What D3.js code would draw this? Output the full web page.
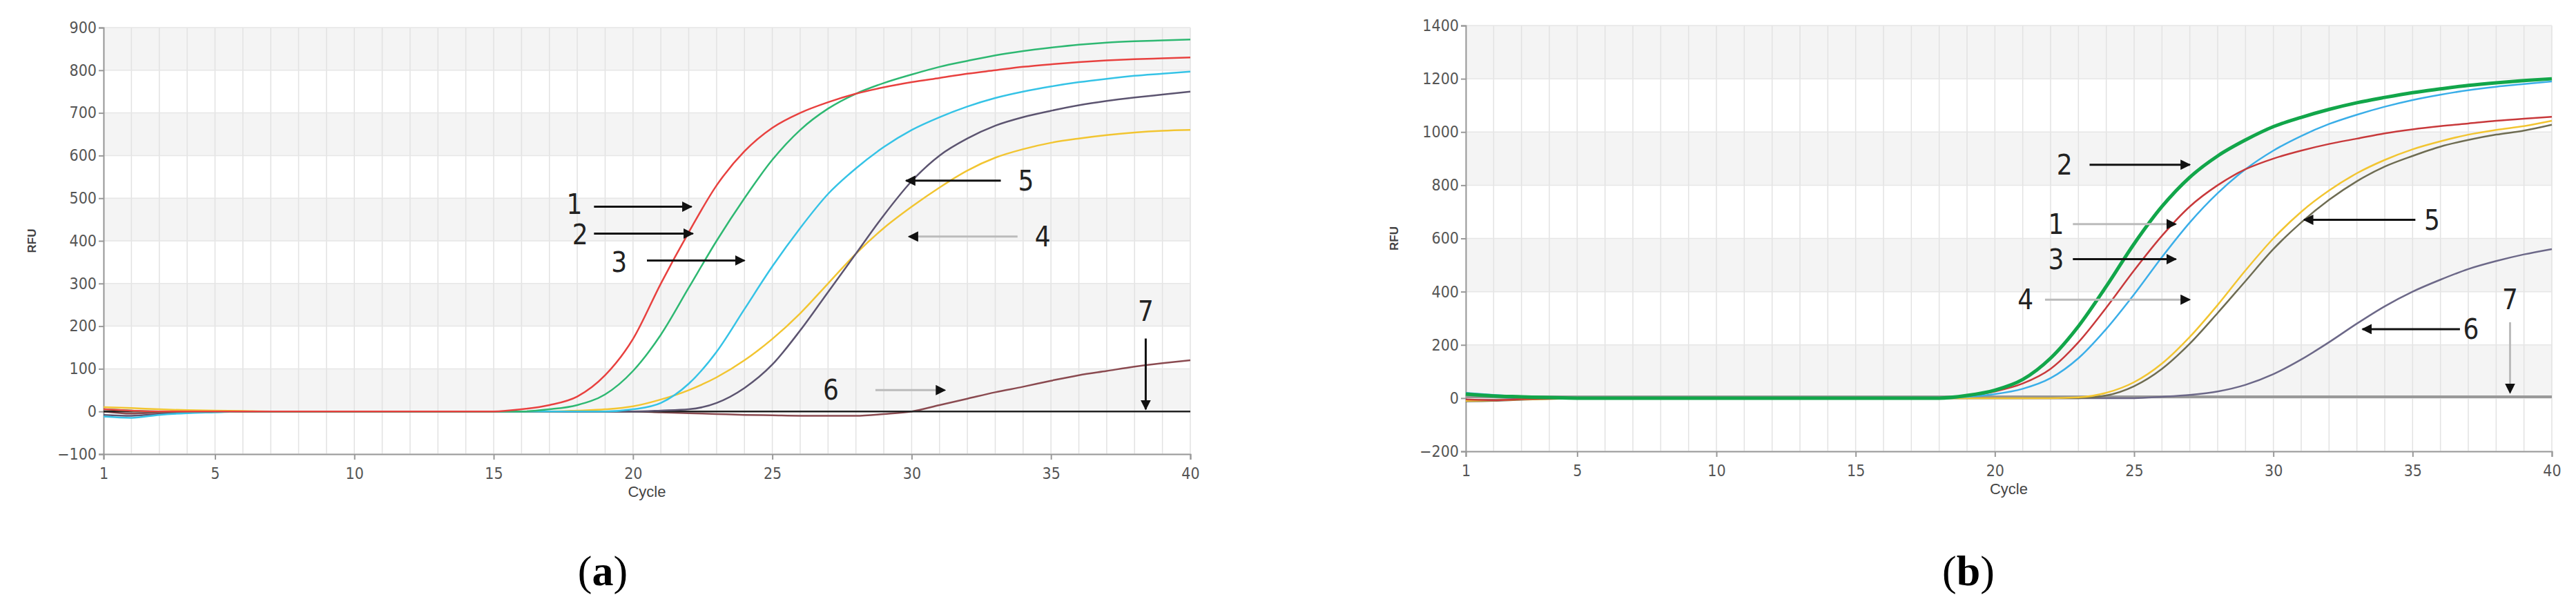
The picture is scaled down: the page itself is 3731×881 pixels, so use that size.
<!DOCTYPE html>
<html><head><meta charset="utf-8">
<script src="https://cdn.jsdelivr.net/npm/d3@7"></script>
<style>body{margin:0;background:#fff}</style>
</head><body>
<svg id="chart"></svg>
<script>
let W = 3731, H = 881;
let cycles = d3.range(1, 41);

// panel (a) series, RFU per cycle 1..40
let a1 = [5,2,0,0,0,0,0,0,0,0,0,0,0,0,0,5,15,35,85,170,300,420,530,610,665,700,725,745,760,772,782,792,800,808,814,819,823,826,828,830];
let a2 = [5,2,0,0,0,0,0,0,0,0,0,0,0,0,0,0,5,15,40,95,180,290,400,500,590,660,710,745,770,790,808,822,835,845,853,860,865,868,870,872];
let a3 = [-12,-15,-8,-4,-2,0,0,0,0,0,0,0,0,0,0,0,0,0,0,5,20,65,140,240,340,430,510,570,620,660,690,715,735,750,762,772,780,787,792,797];
let a4 = [10,8,5,3,2,1,0,0,0,0,0,0,0,0,0,0,0,2,5,12,28,50,80,120,170,230,300,370,430,480,525,565,595,615,630,640,648,654,658,660];
let a5 = [-8,-10,-6,-3,-1,0,0,0,0,0,0,0,0,0,0,0,0,0,0,0,2,5,20,55,110,190,280,370,460,540,600,640,670,690,705,718,728,736,743,750];
let a6 = [0,-5,-3,-2,0,0,0,0,0,0,0,0,0,0,0,0,0,0,0,0,-2,-4,-6,-8,-9,-10,-10,-10,-6,0,15,30,45,58,72,85,95,105,113,120];
let a7 = cycles.map(() => 0);

// panel (b) series
let b2 = [15,8,5,2,0,0,0,0,0,0,0,0,0,0,0,0,0,0,10,30,70,150,270,420,580,720,830,910,970,1020,1055,1085,1110,1130,1148,1162,1175,1185,1193,1200];
let b1 = [-5,-8,-4,-2,0,0,0,0,0,0,0,0,0,0,0,0,0,0,8,25,55,110,210,340,480,610,720,800,860,900,930,955,975,995,1010,1022,1032,1042,1050,1057];
let b3 = [20,12,6,3,1,0,0,0,0,0,0,0,0,0,0,0,0,0,5,15,35,75,150,260,390,530,660,770,860,930,985,1030,1065,1095,1120,1140,1157,1170,1180,1190];
let b4 = [-10,-8,-5,-3,-1,0,0,0,0,0,0,0,0,0,0,0,0,0,0,0,0,0,3,20,60,130,230,350,480,600,700,780,845,895,935,965,990,1008,1022,1042];
let b5 = [-12,-10,-6,-3,-1,0,0,0,0,0,0,0,0,0,0,0,0,0,0,0,0,0,0,10,45,110,205,320,440,560,660,745,815,870,910,945,970,990,1005,1027];
let b6 = [-8,-6,-3,-1,0,0,0,0,0,0,0,0,0,0,0,0,0,0,0,0,0,0,0,0,0,5,12,25,50,90,145,210,280,345,400,445,485,515,540,560];
let b7 = cycles.map(() => 5);

let xTicks = [1,5,10,15,20,25,30,35,40];
let aYTicks = d3.range(-100, 901, 100);
let bYTicks = d3.range(-200, 1401, 200);

// annotations: label, arrow tail [cycle,rfu], arrow tip [cycle,rfu], label position, grey shaft?
let aNotes = [
  {t:"1", lx:17.9, ly:485, from:[18.6,480], to:[22.1,480], grey:false},
  {t:"2", lx:18.1, ly:415, from:[18.6,417], to:[22.15,417], grey:false},
  {t:"3", lx:19.5, ly:350, from:[20.5,354], to:[24.0,354], grey:false},
  {t:"5", lx:34.1, ly:541, from:[33.2,541], to:[29.8,541], grey:false},
  {t:"4", lx:34.7, ly:410, from:[33.8,410], to:[29.9,410], grey:true},
  {t:"6", lx:27.1, ly:50, from:[28.7,50], to:[31.2,50], grey:true},
  {t:"7", lx:38.4, ly:235, from:[38.4,171], to:[38.4,5], grey:false}
];
let bNotes = [
  {t:"2", lx:22.5, ly:877, from:[23.4,877], to:[27.0,877], grey:false},
  {t:"1", lx:22.2, ly:654, from:[22.8,654], to:[26.5,654], grey:true},
  {t:"3", lx:22.2, ly:522, from:[22.8,522], to:[26.5,522], grey:false},
  {t:"4", lx:21.1, ly:370, from:[21.8,370], to:[27.0,370], grey:true},
  {t:"5", lx:35.7, ly:670, from:[35.1,670], to:[31.1,670], grey:false},
  {t:"6", lx:37.1, ly:259, from:[36.7,259], to:[33.2,259], grey:false},
  {t:"7", lx:38.5, ly:370, from:[38.5,285], to:[38.5,20], grey:true}
];

let svg = d3.select("#chart").attr("width", W).attr("height", H);
let defs = svg.append("defs");
defs.append("marker").attr("id", "head").attr("viewBox", "0 0 10 10")
  .attr("refX", 9).attr("refY", 5).attr("markerWidth", 5).attr("markerHeight", 5)
  .attr("orient", "auto-start-reverse")
  .append("path").attr("d", "M0,0 L10,5 L0,10 Z").attr("fill", "#111");

function panel(opt) {
  let x = d3.scaleLinear().domain([1, 40]).range([opt.x0, opt.x1]);
  let y = d3.scaleLinear().domain(opt.yDom).range([opt.y1, opt.y0]);
  let g = svg.append("g");
  let step = opt.step;

  // banded background
  for (let v = opt.yDom[0]; v < opt.yDom[1]; v += step) {
    let idx = Math.round((opt.yDom[1] - v) / step);
    if (idx % 2 == 1) {
      g.append("rect").attr("x", x(1)).attr("width", x(40) - x(1))
        .attr("y", y(v + step)).attr("height", y(v) - y(v + step))
        .attr("fill", "#f4f4f4");
    }
  }
  // vertical grid
  g.selectAll(".vg").data(cycles).enter().append("line")
    .attr("x1", d => x(d)).attr("x2", d => x(d))
    .attr("y1", y(opt.yDom[1])).attr("y2", y(opt.yDom[0]))
    .attr("stroke", "#e2e2e2").attr("stroke-width", 1.5);
  g.selectAll(".hg").data(opt.yTicks).enter().append("line")
    .attr("x1", x(1)).attr("x2", x(40))
    .attr("y1", d => y(d)).attr("y2", d => y(d))
    .attr("stroke", "#e6e6e6").attr("stroke-width", 1.5);

  // axes
  let xa = g.append("g").attr("transform", "translate(0," + y(opt.yDom[0]) + ")")
    .call(d3.axisBottom(x).tickValues(xTicks).tickSize(8).tickFormat(d3.format("d")));
  let ya = g.append("g").attr("transform", "translate(" + x(1) + ",0)")
    .call(d3.axisLeft(y).tickValues(opt.yTicks).tickSize(7).tickFormat(d3.format("d")));
  [xa, ya].forEach(a => {
    a.select(".domain").attr("stroke", "#999").attr("stroke-width", 2);
    a.selectAll(".tick line").attr("stroke", "#999").attr("stroke-width", 2);
    a.selectAll("text").attr("fill", "#555").attr("font-size", 23)
      .attr("font-family", "'Liberation Sans Narrow', 'DejaVu Sans Condensed', sans-serif");
  });
  xa.selectAll("text").attr("dy", "1.1em");

  g.append("text").attr("x", (x(1) + x(40)) / 2).attr("y", y(opt.yDom[0]) + 62)
    .attr("text-anchor", "middle").attr("font-size", 22).attr("fill", "#444")
    .attr("font-family", "'Liberation Sans Narrow', sans-serif").text("Cycle");
  g.append("text").attr("transform", "translate(" + (x(1) - 98) + "," + ((y.range()[0] + y.range()[1]) / 2) + ") rotate(-90)")
    .attr("text-anchor", "middle").attr("font-size", 17).attr("font-weight", "bold").attr("fill", "#444")
    .attr("font-family", "'Liberation Sans', sans-serif").text("RFU");

  // curves
  let line = d3.line().x((d, i) => x(cycles[i])).y(d => y(d)).curve(d3.curveMonotoneX);
  opt.series.forEach(s => {
    g.append("path").datum(s.v).attr("d", line).attr("fill", "none")
      .attr("stroke", s.c).attr("stroke-width", s.w || 2.5);
  });

  // annotations
  opt.notes.forEach(n => {
    g.append("line").attr("x1", x(n.from[0])).attr("y1", y(n.from[1]))
      .attr("x2", x(n.to[0])).attr("y2", y(n.to[1]))
      .attr("stroke", n.grey ? "#bbb" : "#111").attr("stroke-width", 3)
      .attr("marker-end", "url(#head)");
    g.append("text").attr("x", x(n.lx)).attr("y", y(n.ly) + 14)
      .attr("text-anchor", "middle").attr("font-size", 40).attr("fill", "#222")
      .attr("font-family", "'Liberation Sans Narrow', 'DejaVu Sans Condensed', sans-serif")
      .text(n.t);
  });

  let cap = svg.append("text").attr("x", opt.capX).attr("y", 848).attr("text-anchor", "middle")
    .attr("font-size", 62).attr("font-family", "'Liberation Serif', serif");
  cap.append("tspan").text("(");
  cap.append("tspan").attr("font-weight", "bold").text(opt.cap);
  cap.append("tspan").text(")");
}

panel({
  x0: 150, x1: 1724, y0: 40, y1: 658, yDom: [-100, 900], yTicks: aYTicks, step: 100,
  capX: 873, cap: "a", notes: aNotes,
  series: [
    {v: a6, c: "#8a4a50"}, {v: a7, c: "#222"},
    {v: a4, c: "#f2c531"}, {v: a5, c: "#5c5470"}, {v: a3, c: "#35c3e6"},
    {v: a2, c: "#2eb872"}, {v: a1, c: "#e8413f"}
  ]
});

panel({
  x0: 2123, x1: 3696, y0: 37, y1: 654, yDom: [-200, 1400], yTicks: bYTicks, step: 200,
  capX: 2851, cap: "b", notes: bNotes,
  series: [
    {v: b7, c: "#999", w: 4}, {v: b6, c: "#6c6888"},
    {v: b5, c: "#6e6c52"}, {v: b4, c: "#f2c531"}, {v: b3, c: "#3aaee8"},
    {v: b1, c: "#c8393b"}, {v: b2, c: "#12a64a", w: 5}
  ]
});
</script>
</body></html>
